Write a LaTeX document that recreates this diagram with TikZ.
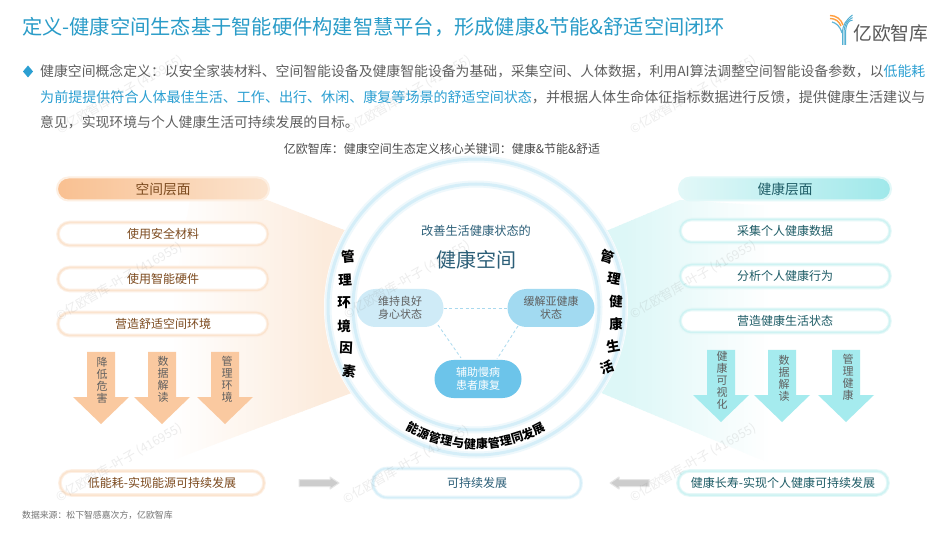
\documentclass[tikz,border=0pt]{standalone}
\usepackage{fontspec}
\setmainfont{Noto Sans CJK SC}
\usetikzlibrary{calc}
\definecolor{titleblue}{HTML}{2A9CC8}
\definecolor{bodygray}{HTML}{5F5F5F}
\definecolor{hiblue}{HTML}{2B9FD2}
\definecolor{brown}{HTML}{7C4A1E}
\definecolor{dteal}{HTML}{1E5C66}
\definecolor{dblue}{HTML}{2C5F78}
\definecolor{orglow}{HTML}{FBE4CF}
\definecolor{orarrow}{HTML}{FAC9A0}
\definecolor{orhead}{HTML}{F9C091}
\definecolor{orwedge}{HTML}{FCEBDC}
\definecolor{tlglow}{HTML}{CFF3F3}
\definecolor{tlarrow}{HTML}{A5EBEE}
\definecolor{tlhead}{HTML}{9FE8EA}
\definecolor{tlwedge}{HTML}{DDF7F7}
\definecolor{ringblue}{HTML}{D5EEF8}
\definecolor{pillA}{HTML}{CFEBF7}
\definecolor{pillB}{HTML}{A2DAF1}
\definecolor{pillC}{HTML}{6CC4EA}
\definecolor{dashblue}{HTML}{A9D9EE}
\tikzset{
  x=1pt,y=-1pt,
  txt/.style={inner sep=0pt,font=\fontsize{#1}{#1}\selectfont},
  txt/.default=11,
  orpill/.style={rounded corners=11.5pt,fill=white,draw=orglow!55,line width=3.6pt,minimum width=210pt,minimum height=23pt,inner sep=0pt,text=brown,font=\fontsize{12}{12}\selectfont,postaction={draw=orglow,line width=1.5pt}},
  tlpill/.style={rounded corners=11.5pt,fill=white,draw=tlglow!55,line width=3.6pt,minimum width=210pt,minimum height=23pt,inner sep=0pt,text=dteal,font=\fontsize{12}{12}\selectfont,postaction={draw=tlglow,line width=1.5pt}},
  innerpill/.style={rounded corners=19pt,minimum width=87pt,minimum height=38pt,inner sep=0pt,align=center,font=\fontsize{11}{13}\selectfont},
  ringchar/.style={inner sep=0pt,font=\fontsize{13.5}{13.5}\selectfont\bfseries,text=black},
  arrowtext/.style={inner sep=0pt,align=center,text=bodygray,font=\fontsize{11}{12}\selectfont},
  wm/.style={inner sep=0pt,rotate=30,text=black!55,opacity=.13,font=\fontsize{12.5}{12.5}\selectfont},
  dashline/.style={draw=dashblue,line width=.8pt,dash pattern=on 3pt off 2.5pt},
  grayarrow/.style={fill=black!20,draw=black!10,line width=1pt,line join=round}
}
\newcommand{\downarrowshape}[3]{%
  \fill[#3] (#1-14,#2) -- (#1+14,#2) -- (#1+14,#2+45) -- (#1+28,#2+45) -- (#1,#2+72) -- (#1-28,#2+45) -- (#1-14,#2+45) -- cycle;}
\begin{document}
\begin{tikzpicture}
\useasboundingbox (0,0) rectangle (950,534);
\fill[white] (0,0) rectangle (950,534);
% title
\node[txt=20.25,anchor=west,text=titleblue] (title) at (22,27) {定义-健康空间生态基于智能硬件构建智慧平台，形成健康\&节能\&舒适空间闭环};
% logo
\foreach \d/\cc in {0/titleblue!80,2.6/titleblue!80,5.2/titleblue!80}{
  \draw[\cc,line width=1pt] (842.5+\d*.6,45) -- (842.5+\d*.6,33) .. controls (842.5+\d*.6,25) and (846+\d*.4,20) .. (852.5,15+\d);
}
\draw[orange!75,line width=1.4pt] (830,15.5) .. controls (836,15.5) and (841,19) .. (843,25);
\draw[orange!75,line width=1.4pt] (830,18.5) .. controls (835,18.5) and (839,21) .. (841,26);
\draw[titleblue!75,line width=1.2pt] (832,22) .. controls (836,23) and (840,26) .. (842,33);
\node[txt=18.8,anchor=west,text=black!65] (logotext) at (853,33) {亿欧智库};
% body
\fill[hiblue] (28,65.5) -- (33,71.5) -- (28,77.5) -- (23,71.5) -- cycle;
\node[txt=13.85,anchor=west,text=bodygray] (l1) at (40,71.5) {健康空间概念定义：以安全家装材料、空间智能设备及健康智能设备为基础，采集空间、人体数据，利用AI算法调整空间智能设备参数，以\textcolor{hiblue}{低能耗}};
\node[txt=14.05,anchor=west,text=bodygray] (l2) at (40,97) {\textcolor{hiblue}{为前提提供符合人体最佳生活、工作、出行、休闲、康复等场景的舒适空间状态}，并根据人体生命体征指标数据进行反馈，提供健康生活建议与};
\node[txt=13.85,anchor=west,text=bodygray] (l3) at (40,122) {意见，实现环境与个人健康生活可持续发展的目标。};
\node[txt=12,text=black!70] (kw) at (442,148.5) {亿欧智库：健康空间生态定义核心关键词：健康\&节能\&舒适};
% wedges drawn as vertical strips
\begin{scope}
\clip (190,200) -- (267,200) -- (362,237) -- (362,389) -- (173,460) -- (173,300) -- cycle;
\foreach \i in {0,...,47}{
  \pgfmathsetmacro{\tt}{min(100,\i*2.6)}
  \fill[orwedge!\tt!white] (170+\i*4,195) rectangle (170+\i*4+5,465);
}
\end{scope}
\begin{scope}
\clip (592,237) -- (680,200) -- (770,206) -- (770,462) -- (757,458) -- (592,389) -- cycle;
\foreach \i in {0,...,44}{
  \pgfmathsetmacro{\tt}{min(100,\i*2.8)}
  \fill[tlwedge!\tt!white] (772-\i*4,195) rectangle (772-\i*4-5,465);
}
\end{scope}
% rings
\coordinate (c) at (476,307);
\fill[white] (c) circle (152);
\draw[ringblue!40,line width=7pt] (c) circle (148);
\draw[ringblue,line width=3pt] (c) circle (148);
\draw[ringblue!40,line width=7pt] (c) circle (123);
\draw[ringblue,line width=3pt] (c) circle (123);
% left column
\node[rounded corners=11.5pt,left color=orhead,right color=orglow,draw=orglow!60,line width=2pt,minimum width=212pt,minimum height=23pt,inner sep=0pt,text=brown,font=\fontsize{13.75}{13.75}\selectfont] (lh) at (163,189) {空间层面};
\node[orpill] (la) at (163,234) {使用安全材料};
\node[orpill] (lb) at (163,279) {使用智能硬件};
\node[orpill] (lc) at (163,324) {营造舒适空间环境};
\node[orpill,minimum width=204pt,minimum height=24pt] (ld) at (162,483) {低能耗-实现能源可持续发展};
\downarrowshape{101}{352}{orarrow}
\downarrowshape{162}{352}{orarrow}
\downarrowshape{225}{352}{orarrow}
\node[arrowtext] (a1) at (102,380) {降\\低\\危\\害};
\node[arrowtext] (a2) at (163,379) {数\\据\\解\\读};
\node[arrowtext] (a3) at (227,379) {管\\理\\环\\境};
% right column
\node[rounded corners=11.5pt,left color=tlglow!60,right color=tlhead,draw=tlglow!60,line width=2pt,minimum width=212pt,minimum height=23pt,inner sep=0pt,text=dteal,font=\fontsize{13.75}{13.75}\selectfont] (rh) at (785,189) {健康层面};
\node[tlpill] (ra) at (785,231) {采集个人健康数据};
\node[tlpill] (rb) at (785,276) {分析个人健康行为};
\node[tlpill] (rc) at (785,321) {营造健康生活状态};
\node[tlpill,minimum height=24pt] (rd) at (783,483) {健康长寿-实现个人健康可持续发展};
\downarrowshape{721}{350}{tlarrow}
\downarrowshape{782}{350}{tlarrow}
\downarrowshape{846}{350}{tlarrow}
\node[arrowtext] (b1) at (722,380.5) {健\\康\\可\\视\\化};
\node[arrowtext] (b2) at (784,378) {数\\据\\解\\读};
\node[arrowtext] (b3) at (848,377) {管\\理\\健\\康};
% centre
\node[txt=12.2,text=dblue] (s1) at (476,231) {改善生活健康状态的};
\node[txt=20,text=dblue] (s2) at (476,260) {健康空间};
\node[innerpill,fill=pillA,text=bodygray] (p1) at (400,308) {维持良好\\身心状态};
\node[innerpill,fill=pillB,text=bodygray] (p2) at (551,308) {缓解亚健康\\状态};
\node[innerpill,fill=pillC,text=white] (p3) at (478,379) {辅助慢病\\患者康复};
\draw[dashline] (p1) -- (p2);
\draw[dashline] ($(p1)+(38,17)$) -- ($(p3)+(-17,-21)$);
\draw[dashline] ($(p2)+(-33,18)$) -- ($(p3)+(19,-20)$);
% bottom centre
\node[rounded corners=14pt,fill=white,draw=ringblue!55,line width=3.6pt,minimum width=208pt,minimum height=29pt,inner sep=0pt,text=dblue,font=\fontsize{12}{12}\selectfont,postaction={draw=ringblue,line width=1.5pt}] (m) at (477,483) {可持续发展};
% gray arrows
\coordinate (gl) at (299,483);
\coordinate (gr) at (649,483);
\fill[grayarrow] (gl) ++(0,-3.5) -- ++(31,0) -- ++(0,-2.5) -- ++(9,6) -- ++(-9,6) -- ++(0,-2.5) -- ++(-31,0) -- cycle;
\fill[grayarrow] (gr) ++(0,-3.5) -- ++(-30,0) -- ++(0,-2.5) -- ++(-9,6) -- ++(9,6) -- ++(0,-2.5) -- ++(30,0) -- cycle;
% ring text
\foreach \ch/\px/\py/\rr in {管/348/257/6,理/345/280/3,环/344/303/0,境/344/326/0,因/346/348/-3,素/349/371/-8}
  \node[ringchar,rotate=\rr] at (\px,\py) {\ch};
\foreach \ch/\px/\py/\rr in {管/608/257/-18,理/614/279/-10,健/616/302/-2,康/616/324/2,生/613/346/10,活/607/367/20}
  \node[ringchar,rotate=\rr] at (\px,\py) {\ch};
\foreach \ch [count=\i from 0] in {能,源,管,理,与,健,康,管,理,同,发,展}{
  \pgfmathsetmacro{\ang}{27.5-\i*5}
  \node[inner sep=0pt,font=\fontsize{12}{12}\selectfont\bfseries,text=black,rotate=-\ang] at ($(c)+({sin(\ang)*-137},{cos(\ang)*137})$) {\ch};
}
% source
\node[txt=8.85,anchor=west,text=black!55] (src) at (22,515) {数据来源：松下智感嘉次方，亿欧智库};
% watermarks
\foreach \wx/\wy in {120/95,408/95,693/95,119/282,407/280,693/280,119/463,406/465,693/463}
  \node[wm] at (\wx,\wy) {©亿欧智库-叶子 (416955)};
\end{tikzpicture}
\end{document}
